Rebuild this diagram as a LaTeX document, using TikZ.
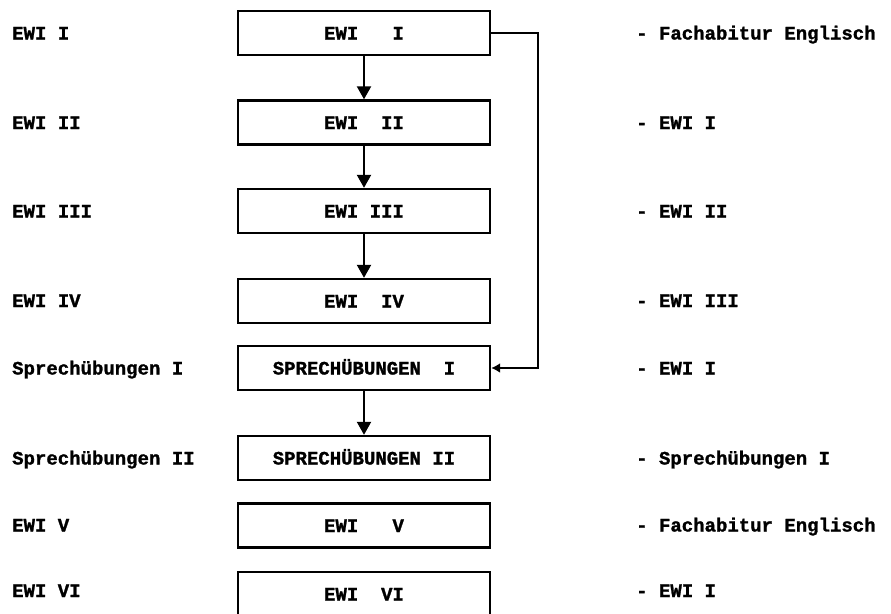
\documentclass[tikz,border=0pt]{standalone}
\usepackage{fontspec}
\setmainfont{Liberation Mono}[BoldFeatures={FakeBold=1.3}]
\usetikzlibrary{arrows.meta}
\begin{document}
\begin{tikzpicture}[x=1pt,y=-1pt,
  font=\fontsize{19}{21}\selectfont\bfseries,
  box/.style={draw, line width=2.4pt, minimum width=252pt, minimum height=44pt,
    inner sep=0pt, text height=13pt, text depth=0pt},
  lab/.style={anchor=base west, inner sep=0pt},
  arr/.style={line width=2.2pt, -{Triangle[width=14pt,length=13pt]}},
  farr/.style={line width=2pt, -{Latex[width=10pt,length=9pt]}}]
\clip (0,0) rectangle (891,613);
\fill[white] (0,0) rectangle (891,613);
% boxes
\node[box] (b1) at (364,33)    {EWI\ \ \ I};
\node[box] (b2) at (364,122.5) {EWI\ \ II};
\node[box] (b3) at (364,211)   {EWI III};
\node[box] (b4) at (364,301)   {EWI\ \ IV};
\node[box] (b5) at (364,368)   {SPRECHÜBUNGEN\ \ I};
\node[box] (b6) at (364,458)   {SPRECHÜBUNGEN II};
\node[box] (b7) at (364,525.5) {EWI\ \ \ V};
\node[box] (b8) at (364,594)   {EWI\ \ VI};
% arrows
\draw[arr] (b1) -- (b2);
\draw[arr] (b2) -- (b3);
\draw[arr] (b3) -- (b4);
\draw[arr] (b5) -- (b6);
\coordinate (c1) at (538,33);
\coordinate (c2) at (538,368);
\draw[farr] (b1.east) -- (c1) -- (c2) -- (b5.east);
% left labels
\node[lab] (l1) at (12,39.5)  {EWI I};
\node[lab] (l2) at (12,129)   {EWI II};
\node[lab] (l3) at (12,217.5) {EWI III};
\node[lab] (l4) at (12,307)   {EWI IV};
\node[lab] (l5) at (12,374.5) {Sprechübungen I};
\node[lab] (l6) at (12,464.5) {Sprechübungen II};
\node[lab] (l7) at (12,531.5) {EWI V};
\node[lab] (l8) at (12,597)   {EWI VI};
% right labels
\node[lab] (r1) at (636,39.5)  {- Fachabitur Englisch};
\node[lab] (r2) at (636,129)   {- EWI I};
\node[lab] (r3) at (636,217.5) {- EWI II};
\node[lab] (r4) at (636,307)   {- EWI III};
\node[lab] (r5) at (636,374.5) {- EWI I};
\node[lab] (r6) at (636,464.5) {- Sprechübungen I};
\node[lab] (r7) at (636,531.5) {- Fachabitur Englisch};
\node[lab] (r8) at (636,597)   {- EWI I};
\end{tikzpicture}
\end{document}
